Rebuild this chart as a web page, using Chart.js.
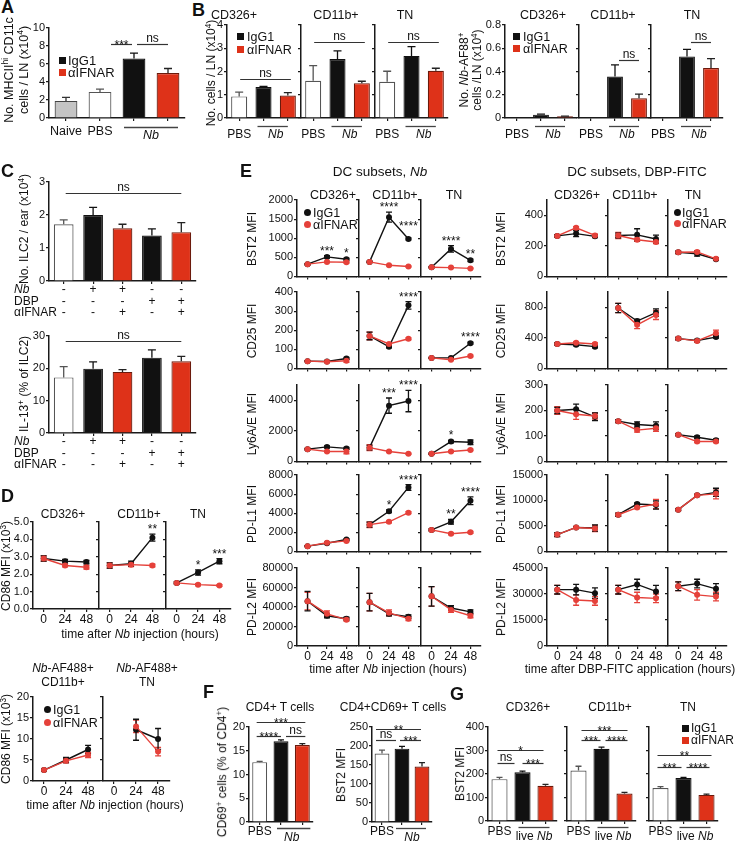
<!DOCTYPE html>
<html><head><meta charset="utf-8">
<script src="https://cdn.jsdelivr.net/npm/chart.js@4.4.1/dist/chart.umd.min.js"></script>
<style>
html,body{margin:0;padding:0;background:#fff;}
#fig{position:relative;width:737px;height:841px;overflow:hidden;background:#fff;font-family:"Liberation Sans",Arial,Helvetica,sans-serif;color:#111;}
#fig canvas{position:absolute;}
.t{position:absolute;white-space:nowrap;line-height:1.15;text-align:center;}
.t sup{font-size:0.68em;line-height:0;vertical-align:0.55em;}
.sq{position:absolute;width:7px;height:7px;}
.dot{position:absolute;width:7px;height:7px;border-radius:50%;}
</style></head><body><div id="fig"></div>
<script>
// ================= DATA =================
const times = [0, 24, 48];
const subsets = ['CD326+', 'CD11b+', 'TN'];
const treatments = ['PBS', 'IgG1', 'αIFNAR'];

// Panel A
const A_groups = ['Naive', 'PBS', 'IgG1', 'αIFNAR'];
const A_values = [1.9, 2.9, 6.6, 5.0];
const A_errors = [0.4, 0.3, 0.6, 0.5];
const A_ticks = [0, 2, 4, 6, 8, 10];

// Panel B
const B_cells = [[0.93, 1.33, 0.97], [1.6, 2.54, 1.5], [1.56, 2.67, 2.03]];
const B_cellsErr = [[0.18, 0.03, 0.12], [0.65, 0.35, 0.08], [0.45, 0.4, 0.11]];
const B_cellsTicks = [0, 1, 2, 3, 4];
const B_cellsNsY = [1.67, 3.26, 3.26];
const B_af = [[null, 0.029, 0.014], [null, 0.357, 0.17], [null, 0.53, 0.43]];
const B_afErr = [[0, 0.004, 0.002], [0, 0.1, 0.035], [0, 0.06, 0.08]];
const B_afTicks = [0, 0.2, 0.4, 0.6, 0.8];
const B_afNsY = [null, 0.5, 0.657];

// Panel C
const C_groups = ['ctrl', 'Nb', 'Nb+aIFNAR', 'DBP', 'DBP+aIFNAR'];
const C_ilc2 = [1.72, 2.0, 1.6, 1.38, 1.48];
const C_ilc2Err = [0.13, 0.23, 0.12, 0.2, 0.29];
const C_ilc2Ticks = [0, 1, 2, 3];
const C_il13 = [17.2, 19.9, 18.9, 23.3, 22.2];
const C_il13Err = [3.3, 2.1, 0.7, 2.4, 1.5];
const C_il13Ticks = [0, 10, 20, 30];
const C_nsY = [2.66, 28.3];
const C_rowNb = ['-', '+', '+', '-', '-'];
const C_rowDBP = ['-', '-', '-', '+', '+'];
const C_rowIFNAR = ['-', '-', '+', '-', '+'];

// Panel D (CD86 MFI x10^3)
const D_IgG1 = [[2.9, 2.75, 2.7], [2.5, 2.6, 4.1], [1.5, 2.1, 2.75]];
const D_IgG1Err = [[0.15, 0.1, 0.1], [0.15, 0.15, 0.2], [0.06, 0.15, 0.15]];
const D_aIFNAR = [[2.9, 2.5, 2.4], [2.5, 2.55, 2.5], [1.5, 1.4, 1.35]];
const D_aIFNARErr = [[0.15, 0.08, 0.1], [0.15, 0.12, 0.08], [0.06, 0.06, 0.05]];
const D_ticks = [0, 1, 2, 3, 4, 5];
const D_stars = [[], [[2, '**']], [[1, '*'], [2, '***']]];
const D2_subsets = ['CD11b+', 'TN'];
const D2_IgG1 = [[2.6, 5.0, 7.5], [null, 12.2, 10]];
const D2_IgG1Err = [[0.2, 0.6, 1.0], [0, 2.5, 2.5]];
const D2_aIFNAR = [[2.6, 4.8, 6.2], [null, 13, 7]];
const D2_aIFNARErr = [[0.2, 0.5, 0.6], [0, 1.5, 1]];
const D2_ticks = [0, 5, 10, 15, 20];

// Panel E, Nb   (per subset: CD326+, CD11b+, TN ; values at 0, 24, 48 h)
const nbBST2_IgG1 = [[320, 510, 450], [380, 1550, 980], [240, 720, 420]];
const nbBST2_IgG1Err = [[15, 30, 25], [20, 130, 25], [15, 85, 30]];
const nbBST2_aIFNAR = [[320, 380, 370], [380, 290, 260], [240, 230, 210]];
const nbBST2_aIFNARErr = [[15, 20, 20], [15, 15, 15], [10, 15, 10]];
const nbCD25_IgG1 = [[38, 36, 52], [170, 113, 330], [55, 55, 132]];
const nbCD25_IgG1Err = [[3, 3, 5], [20, 5, 20], [3, 3, 5]];
const nbCD25_aIFNAR = [[38, 35, 40], [170, 128, 155], [55, 45, 65]];
const nbCD25_aIFNARErr = [[3, 3, 8], [20, 5, 5], [3, 3, 4]];
const nbLy6_IgG1 = [[800, 950, 850], [900, 3650, 3950], [500, 1300, 1250]];
const nbLy6_IgG1Err = [[50, 60, 60], [150, 500, 700], [40, 80, 150]];
const nbLy6_aIFNAR = [[800, 650, 650], [900, 650, 500], [500, 650, 750]];
const nbLy6_aIFNARErr = [[50, 40, 150], [200, 40, 40], [40, 40, 50]];
const nbPDL1_IgG1 = [[550, 850, 1250], [2800, 4200, 6700], [2250, 3100, 5300]];
const nbPDL1_IgG1Err = [[50, 60, 80], [250, 150, 300], [100, 250, 400]];
const nbPDL1_aIFNAR = [[550, 900, 1100], [2800, 3100, 4050], [2250, 1850, 2000]];
const nbPDL1_aIFNARErr = [[50, 60, 80], [300, 100, 100], [100, 80, 100]];
const nbPDL2_IgG1 = [[46000, 31000, 28000], [45000, 33000, 30000], [51000, 39000, 35000]];
const nbPDL2_IgG1Err = [[10000, 2000, 1500], [9000, 2000, 2000], [10000, 2500, 2000]];
const nbPDL2_aIFNAR = [[46000, 33000, 27000], [45000, 34000, 28000], [51000, 37000, 31000]];
const nbPDL2_aIFNARErr = [[9000, 3000, 1500], [9000, 3000, 2000], [10000, 2500, 2000]];
const E_nbTicks = [[0, 500, 1000, 1500, 2000], [0, 100, 200, 300, 400], [0, 1000, 2000, 3000, 4000, 5000], [0, 2000, 4000, 6000, 8000], [0, 20000, 40000, 60000, 80000]];
const E_nbStars = [
  [[[1, '***'], [2, '*']], [[1, '****'], [2, '****', 7]], [[1, '****'], [2, '**']]],
  [[], [[2, '****']], [[2, '****']]],
  [[], [[1, '***'], [2, '****']], [[1, '*']]],
  [[], [[1, '*'], [2, '****']], [[1, '**'], [2, '****']]],
  [[], [], []]
];

// Panel E, DBP-FITC
const dbpBST2_IgG1 = [[265, 280, 262], [268, 272, 245], [158, 148, 112]];
const dbpBST2_IgG1Err = [[8, 20, 8], [15, 40, 25], [8, 15, 6]];
const dbpBST2_aIFNAR = [[265, 318, 268], [268, 240, 225], [158, 160, 115]];
const dbpBST2_aIFNARErr = [[8, 8, 8], [20, 10, 10], [8, 8, 6]];
const dbpCD25_IgG1 = [[320, 310, 285], [790, 620, 730], [390, 365, 410]];
const dbpCD25_IgG1Err = [[15, 15, 15], [60, 20, 50], [15, 15, 15]];
const dbpCD25_aIFNAR = [[320, 335, 320], [790, 570, 700], [390, 360, 460]];
const dbpCD25_aIFNARErr = [[15, 15, 15], [60, 50, 60], [15, 15, 40]];
const dbpLy6_IgG1 = [[200, 205, 175], [158, 145, 140], [105, 95, 83]];
const dbpLy6_IgG1Err = [[12, 20, 15], [6, 10, 15], [4, 5, 5]];
const dbpLy6_aIFNAR = [[200, 185, 178], [158, 123, 130], [105, 78, 78]];
const dbpLy6_aIFNARErr = [[15, 20, 12], [6, 8, 12], [4, 4, 4]];
const dbpPDL1_IgG1 = [[3300, 4700, 4600], [7200, 9300, 9100], [8200, 11000, 11600]];
const dbpPDL1_IgG1Err = [[400, 150, 600], [300, 200, 800], [200, 200, 800]];
const dbpPDL1_aIFNAR = [[3300, 4700, 4500], [7200, 8600, 9300], [8200, 11000, 11300]];
const dbpPDL1_aIFNARErr = [[400, 150, 600], [300, 200, 900], [200, 200, 1000]];
const dbpPDL2_IgG1 = [[32500, 32500, 30500], [32500, 35500, 31500], [34500, 36000, 33000]];
const dbpPDL2_IgG1Err = [[2500, 3000, 3000], [2500, 3000, 3500], [2500, 2500, 3000]];
const dbpPDL2_aIFNAR = [[32500, 26500, 26000], [32500, 28000, 27500], [34500, 29500, 28500]];
const dbpPDL2_aIFNARErr = [[2500, 3000, 2500], [2500, 3000, 2500], [2500, 3000, 2500]];
const E_dbpTicks = [[0, 100, 200, 300, 400, 500], [0, 200, 400, 600, 800, 1000], [0, 100, 200, 300], [0, 5000, 10000, 15000], [0, 15000, 30000, 45000]];
const E_markers = ['BST2 MFI', 'CD25 MFI', 'Ly6A/E MFI', 'PD-L1 MFI', 'PD-L2 MFI'];

// Panel F
const F_cd69 = [12.6, 17.0, 16.2];
const F_cd69Err = [0.15, 0.3, 0.3];
const F_cd69Ticks = [0, 5, 10, 15, 20];
const F_bst2 = [180, 193, 146];
const F_bst2Err = [9, 6, 10];
const F_bst2Ticks = [0, 50, 100, 150, 200, 250];

// Panel G
const G_bst2 = [[178, 207, 150], [215, 307, 117], [140, 183, 111]];
const G_bst2Err = [[8, 5, 6], [18, 7, 5], [6, 3, 3]];
const G_ticks = [0, 100, 200, 300, 400];

// ================= HELPERS =================
const FONT = '"Liberation Sans", Arial, Helvetica, sans-serif';
const fig = document.getElementById('fig');
const SPEC = new Map();
const BLACK = '#111111', RED = '#de3219', RED_EDGE = '#6b1a0c', RED_LINE = '#e5413a',
      WHITE = '#ffffff', GRAYFILL = '#c4c4c4', EDGE = '#555555', AXIS = '#1a1a1a';
const BAR3_FILL = [WHITE, BLACK, RED], BAR3_EDGE = [EDGE, BLACK, RED_EDGE], BAR3_ERR = [EDGE, BLACK, '#222'];

function GRID() { return { drawOnChartArea: false, drawTicks: true, tickLength: 3, color: AXIS, lineWidth: 1.2, offset: false }; }
function BORDER() { return { display: true, color: AXIS, width: 1.5 }; }

function txt(html, x, y, o = {}) {
  const d = document.createElement('div');
  d.className = 't';
  d.innerHTML = html;
  d.style.left = x + 'px'; d.style.top = y + 'px';
  d.style.fontSize = (o.size || 12) + 'px';
  if (o.bold) d.style.fontWeight = 'bold';
  if (o.lh) d.style.lineHeight = o.lh + 'px';
  const ax = o.ax ?? -50, ay = o.ay ?? -50;
  d.style.transform = `translate(${ax}%, ${ay}%)` + (o.rot ? ` rotate(${o.rot}deg)` : '');
  fig.appendChild(d);
}
function mark(cls, x, y, color) {
  const d = document.createElement('div');
  d.className = cls; d.style.left = x + 'px'; d.style.top = y + 'px'; d.style.background = color;
  fig.appendChild(d);
}

function drawParts(ctx, parts, cx, y, size) {
  let total = 0;
  const ws = parts.map(([t, it]) => { ctx.font = (it ? 'italic ' : '') + size + 'px ' + FONT; const w = ctx.measureText(t).width; total += w; return w; });
  let x = cx - total / 2;
  ctx.textAlign = 'left';
  parts.forEach(([t, it], k) => { ctx.font = (it ? 'italic ' : '') + size + 'px ' + FONT; ctx.fillText(t, x, y); x += ws[k]; });
  ctx.textAlign = 'center';
}

function drawErrors(chart, both) {
  const ctx = chart.ctx, ys = chart.scales.y;
  chart.data.datasets.forEach((ds, di) => {
    if (!ds.errors) return;
    const meta = chart.getDatasetMeta(di);
    meta.data.forEach((el, i) => {
      const raw = ds.data[i];
      const v = (raw !== null && typeof raw === 'object') ? raw.y : raw;
      const e = ds.errors[i];
      if (v == null || !e) return;
      const x = el.x;
      const yt = ys.getPixelForValue(v + e);
      const yb = both ? ys.getPixelForValue(v - e) : ys.getPixelForValue(v);
      const cw = ds.capW || 3;
      ctx.save();
      ctx.strokeStyle = ds.errColors ? ds.errColors[i] : (ds.errColor || BLACK);
      ctx.lineWidth = 1.3;
      ctx.beginPath();
      ctx.moveTo(x, yb); ctx.lineTo(x, yt);
      ctx.moveTo(x - cw, yt); ctx.lineTo(x + cw, yt);
      if (both) { ctx.moveTo(x - cw, yb); ctx.lineTo(x + cw, yb); }
      ctx.stroke();
      ctx.restore();
    });
  });
}

function drawAnn(chart) {
  const o = SPEC.get(chart.canvas); if (!o) return;
  const ctx = chart.ctx, xs = chart.scales.x, ys = chart.scales.y, ca = chart.chartArea;
  const X = v => xs.getPixelForValue(v);
  const fs = o.fs || 12;
  ctx.save();
  ctx.fillStyle = '#111'; ctx.textAlign = 'center'; ctx.textBaseline = 'middle';
  (o.cat || []).forEach(([i, t]) => { ctx.font = fs + 'px ' + FONT; ctx.fillText(t, X(i), ca.bottom + o.catDy); });
  (o.groups || []).forEach(g => {
    ctx.strokeStyle = '#444'; ctx.lineWidth = 1.3;
    ctx.beginPath();
    ctx.moveTo(X(g.from) - g.e1, ca.bottom + g.ly + 0.5); ctx.lineTo(X(g.to) + g.e2, ca.bottom + g.ly + 0.5);
    ctx.stroke();
    drawParts(ctx, g.parts, (X(g.from) + X(g.to)) / 2, ca.bottom + g.ty, fs);
  });
  (o.brackets || []).forEach(([from, to, yv, t, o1, o2]) => {
    const y = Math.round(ys.getPixelForValue(yv)) + 0.5;
    const x1 = X(from) + (o1 || 0), x2 = X(to) + (o2 || 0);
    ctx.strokeStyle = '#333'; ctx.lineWidth = 1.2;
    ctx.beginPath(); ctx.moveTo(x1, y); ctx.lineTo(x2, y); ctx.stroke();
    ctx.font = '12px ' + FONT; ctx.textBaseline = 'alphabetic';
    const star = t.indexOf('*') >= 0;
    ctx.fillText(t, (x1 + x2) / 2, star ? y + 4 : y - 2.5);
    ctx.textBaseline = 'middle';
  });
  (o.stars || []).forEach(([d, i, t, dy]) => {
    const ds = chart.data.datasets[d];
    const el = chart.getDatasetMeta(d).data[i];
    const v = ds.data[i].y, e = (ds.errors && ds.errors[i]) || 0;
    const yt = ys.getPixelForValue(v + e);
    ctx.font = '12px ' + FONT; ctx.textBaseline = 'alphabetic';
    ctx.fillText(t, el.x, yt - 1 - (dy || 0));
    ctx.textBaseline = 'middle';
  });
  (o.table || []).forEach((row, r) => row.forEach((t, i) => {
    ctx.font = '12px ' + FONT; ctx.fillText(t, X(i), ca.bottom + o.tableDy[r]);
  }));
  (o.xLabels || []).forEach(v => { ctx.font = '12px ' + FONT; ctx.fillText(String(v), X(v), ca.bottom + o.xDy); });
  ctx.restore();
}

Chart.register({
  id: 'extras',
  beforeDatasetsDraw(chart) { if (chart.config.type === 'line') drawErrors(chart, true); },
  afterDatasetsDraw(chart) { if (chart.config.type === 'bar') drawErrors(chart, false); drawAnn(chart); }
});

function plot(p) {
  const LW = p.LW, PT = p.PT ?? 10, PR = p.PR ?? 6, BH = p.BH ?? 8;
  const pw = p.x1 - p.x0, ph = p.y1 - p.y0;
  const w = LW + pw + PR, h = PT + ph + BH;
  const cv = document.createElement('canvas');
  cv.width = w; cv.height = h;
  cv.style.cssText = `left:${p.x0 - LW}px;top:${p.y0 - PT}px;width:${w}px;height:${h}px`;
  fig.appendChild(cv);
  SPEC.set(cv, p.ann || {});
  const yt = p.yTicks;
  return new Chart(cv, {
    type: p.type,
    data: p.data,
    options: {
      responsive: false, animation: false, devicePixelRatio: 1, events: [],
      layout: { padding: { top: PT, right: PR, bottom: 0, left: 0 } },
      plugins: { legend: { display: false }, tooltip: { enabled: false } },
      scales: {
        x: Object.assign({ afterFit: s => { s.height = BH; } }, p.xScale),
        y: {
          type: 'linear', min: 0, max: yt[yt.length - 1],
          afterFit: s => { s.width = LW; },
          afterBuildTicks: s => { s.ticks = yt.map(v => ({ value: v })); },
          ticks: { font: { size: 11, family: FONT }, color: '#111', padding: 1,
                   callback: v => p.yLab ? (p.yFmt ? p.yFmt(v) : String(v)) : '' },
          grid: GRID(), border: BORDER()
        }
      }
    }
  });
}

function catX() { return { type: 'category', offset: true, ticks: { callback: () => '', padding: 0 }, grid: GRID(), border: BORDER() }; }
function linX(min, max) {
  return { type: 'linear', min, max, afterBuildTicks: s => { s.ticks = times.map(v => ({ value: v })); },
           ticks: { callback: () => '', padding: 0 }, grid: GRID(), border: BORDER() };
}

function bars(p) {
  p.type = 'bar';
  p.xScale = catX();
  p.data = { labels: p.labels, datasets: [{
    data: p.values, errors: p.errors, errColors: p.errColors,
    backgroundColor: p.colors, borderColor: p.edges, borderWidth: 1.2,
    barPercentage: p.barPct ?? 0.68, categoryPercentage: 1, capW: p.capW ?? 4
  }] };
  return plot(p);
}

function lineSets(igg, iggErr, ifn, ifnErr) {
  const mk = (vals, errs, col) => ({
    data: times.map((t, k) => ({ x: t, y: vals[k] })), errors: errs, errColor: col, capW: 3,
    borderColor: col, backgroundColor: col, pointBackgroundColor: col, pointBorderColor: col,
    borderWidth: 1.4, pointRadius: 3, pointHoverRadius: 3, pointBorderWidth: 0, clip: false, tension: 0
  });
  return [mk(ifn, ifnErr, RED_LINE), mk(igg, iggErr, BLACK)];
}

// ================= PANEL A =================
txt('A', 1, -3, { size: 18, bold: true, ax: 0, ay: 0 });
bars({ x0: 49, x1: 185, y0: 28, y1: 118, LW: 30, PT: 10, PR: 4, BH: 26, yTicks: A_ticks, yLab: true,
  labels: A_groups, values: A_values, errors: A_errors,
  colors: [GRAYFILL, WHITE, BLACK, RED], edges: ['#444', EDGE, BLACK, RED_EDGE], errColors: ['#333', EDGE, BLACK, '#222'],
  barPct: 0.67,
  ann: { cat: [[0, 'Naive'], [1, 'PBS']], catDy: 14, fs: 12.5,
         groups: [{ from: 2, to: 3, e1: 10, e2: 10, ly: 9, ty: 18, parts: [['Nb', true]] }],
         brackets: [[1, 2, 8.25, '***', 11, -2], [2, 3, 8.25, 'ns', 3, 0]] } });
txt('No. MHCII<sup>hi</sup> CD11c<br>cells / LN (x10<sup>4</sup>)', 17, 70, { size: 12.5, rot: -90, lh: 15 });
mark('sq', 59, 57, BLACK); txt('IgG1', 68, 60.5, { size: 13, ax: 0 });
mark('sq', 59, 69, RED); txt('αIFNAR', 68, 72.5, { size: 13, ax: 0 });

// ================= PANEL B =================
txt('B', 192, 0, { size: 18, bold: true, ax: 0, ay: 0 });
const B_leftX0 = [227, 301, 375], B_rightX0 = [505, 579, 651];
subsets.forEach((s, k) => {
  bars({ x0: B_leftX0[k], x1: B_leftX0[k] + 73, y0: 25, y1: 118, LW: k === 0 ? 24 : 4, PT: 10, PR: 2, BH: 26,
    yTicks: B_cellsTicks, yLab: k === 0, labels: treatments, values: B_cells[k], errors: B_cellsErr[k],
    colors: BAR3_FILL, edges: BAR3_EDGE, errColors: BAR3_ERR, barPct: 0.66,
    ann: { cat: [[0, 'PBS']], catDy: 17, groups: [{ from: 1, to: 2, e1: 6, e2: 0, ly: 8, ty: 17, parts: [['Nb', true]] }],
           brackets: [[0, 2, B_cellsNsY[k], 'ns', 1, 3]] } });
  bars({ x0: B_rightX0[k], x1: B_rightX0[k] + 72, y0: 25, y1: 118, LW: k === 0 ? 24 : 4, PT: 10, PR: 2, BH: 26,
    yTicks: B_afTicks, yLab: k === 0, yFmt: v => v === 0 ? '0' : v.toFixed(1),
    labels: treatments, values: B_af[k], errors: B_afErr[k],
    colors: BAR3_FILL, edges: BAR3_EDGE, errColors: BAR3_ERR, barPct: 0.66,
    ann: { cat: [[0, 'PBS']], catDy: 17, groups: [{ from: 1, to: 2, e1: 6, e2: 0, ly: 8, ty: 17, parts: [['Nb', true]] }],
           brackets: B_afNsY[k] == null ? [] : [[1, 2, B_afNsY[k], 'ns', 4, 0]] } });
});
txt('No. cells / LN (x10<sup>4</sup>)', 212, 73, { size: 12, rot: -90 });
[[234, 0], [336, 1], [405, 2]].forEach(([x, k]) => txt(subsets[k], x, 15, { size: 12.5 }));
mark('sq', 237, 33, BLACK); txt('IgG1', 247, 36.5, { size: 12.5, ax: 0 });
mark('sq', 237, 46, RED); txt('αIFNAR', 247, 49.5, { size: 12.5, ax: 0 });
txt('No. <i>Nb</i>-AF88<sup>+</sup><br>cells /LN (x10<sup>4</sup>)', 471, 70, { size: 12, rot: -90, lh: 13 });
[[543, 0], [613, 1], [692, 2]].forEach(([x, k]) => txt(subsets[k], x, 15, { size: 12.5 }));
mark('sq', 513, 33, BLACK); txt('IgG1', 523, 36.5, { size: 12.5, ax: 0 });
mark('sq', 513, 45, RED); txt('αIFNAR', 523, 48.5, { size: 12.5, ax: 0 });

// ================= PANEL C =================
txt('C', 1, 161, { size: 18, bold: true, ax: 0, ay: 0 });
const C_fill = [WHITE, BLACK, RED, BLACK, RED], C_edge = [EDGE, BLACK, RED_EDGE, BLACK, RED_EDGE], C_err = [EDGE, BLACK, '#222', BLACK, '#222'];
bars({ x0: 49, x1: 196, y0: 182, y1: 281, LW: 22, PT: 10, PR: 4, BH: 38, yTicks: C_ilc2Ticks, yLab: true,
  labels: C_groups, values: C_ilc2, errors: C_ilc2Err, colors: C_fill, edges: C_edge, errColors: C_err, barPct: 0.67,
  ann: { table: [C_rowNb, C_rowDBP, C_rowIFNAR], tableDy: [9, 21, 32], brackets: [[0, 4, C_nsY[0], 'ns', 2, 0]] } });
bars({ x0: 49, x1: 196, y0: 336, y1: 433, LW: 22, PT: 14, PR: 4, BH: 38, yTicks: C_il13Ticks, yLab: true,
  labels: C_groups, values: C_il13, errors: C_il13Err, colors: C_fill, edges: C_edge, errColors: C_err, barPct: 0.67,
  ann: { table: [C_rowNb, C_rowDBP, C_rowIFNAR], tableDy: [9, 21, 32], brackets: [[0, 4, C_nsY[1], 'ns', 2, 0]] } });
txt('No. ILC2 / ear (x10<sup>4</sup>)', 25, 229, { size: 12, rot: -90 });
txt('IL-13<sup>+</sup> (% of ILC2)', 25, 384, { size: 12, rot: -90 });
[[290, 302, 313], [442, 454, 465]].forEach(ys => {
  txt('<i>Nb</i>', 14, ys[0], { size: 12, ax: 0 });
  txt('DBP', 14, ys[1], { size: 12, ax: 0 });
  txt('αIFNAR', 14, ys[2], { size: 12, ax: 0 });
});

// ================= PANEL D =================
txt('D', 1, 486, { size: 18, bold: true, ax: 0, ay: 0 });
const D_x0 = [33, 99, 166];
subsets.forEach((s, k) => {
  plot({ type: 'line', x0: D_x0[k], x1: D_x0[k] + 66, y0: 522, y1: 609, LW: k === 0 ? 24 : 4, PT: 12, PR: 2, BH: 18,
    yTicks: D_ticks, yLab: k === 0, yFmt: v => v.toFixed(1), xScale: linX(-12, 61),
    data: { datasets: lineSets(D_IgG1[k], D_IgG1Err[k], D_aIFNAR[k], D_aIFNARErr[k]) },
    ann: { stars: D_stars[k].map(([i, t, dy]) => [1, i, t, dy]), xLabels: times, xDy: 11 } });
  txt(s, [63, 139, 198][k], 515, { size: 12 });
});
txt('CD86 MFI (x10<sup>3</sup>)', 7, 566, { size: 12, rot: -90 });
txt('time after <i>Nb</i> injection (hours)', 140, 635, { size: 12 });

const D2_x0 = [33, 103];
D2_subsets.forEach((s, k) => {
  plot({ type: 'line', x0: D2_x0[k], x1: D2_x0[k] + 68, y0: 697, y1: 781, LW: k === 0 ? 22 : 4, PT: 10, PR: 2, BH: 18,
    yTicks: D2_ticks, yLab: k === 0, xScale: linX(-12, 61),
    data: { datasets: lineSets(D2_IgG1[k], D2_IgG1Err[k], D2_aIFNAR[k], D2_aIFNARErr[k]) },
    ann: { xLabels: times, xDy: 11 } });
  txt('<i>Nb</i>-AF488+<br>' + s, [63, 147][k], 675, { size: 12, lh: 14 });
});
mark('dot', 44, 706, BLACK); txt('IgG1', 53, 709.5, { size: 12.5, ax: 0 });
mark('dot', 44, 719, RED_LINE); txt('αIFNAR', 53, 722.5, { size: 12.5, ax: 0 });
txt('CD86 MFI (x10<sup>3</sup>)', 7, 739, { size: 12, rot: -90 });
txt('time after <i>Nb</i> injection (hours)', 105, 806, { size: 12 });

// ================= PANEL E =================
txt('E', 240, 161, { size: 18, bold: true, ax: 0, ay: 0 });
const E_nbRows = [
  [nbBST2_IgG1, nbBST2_IgG1Err, nbBST2_aIFNAR, nbBST2_aIFNARErr],
  [nbCD25_IgG1, nbCD25_IgG1Err, nbCD25_aIFNAR, nbCD25_aIFNARErr],
  [nbLy6_IgG1, nbLy6_IgG1Err, nbLy6_aIFNAR, nbLy6_aIFNARErr],
  [nbPDL1_IgG1, nbPDL1_IgG1Err, nbPDL1_aIFNAR, nbPDL1_aIFNARErr],
  [nbPDL2_IgG1, nbPDL2_IgG1Err, nbPDL2_aIFNAR, nbPDL2_aIFNARErr]
];
const E_dbpRows = [
  [dbpBST2_IgG1, dbpBST2_IgG1Err, dbpBST2_aIFNAR, dbpBST2_aIFNARErr],
  [dbpCD25_IgG1, dbpCD25_IgG1Err, dbpCD25_aIFNAR, dbpCD25_aIFNARErr],
  [dbpLy6_IgG1, dbpLy6_IgG1Err, dbpLy6_aIFNAR, dbpLy6_aIFNARErr],
  [dbpPDL1_IgG1, dbpPDL1_IgG1Err, dbpPDL1_aIFNAR, dbpPDL1_aIFNARErr],
  [dbpPDL2_IgG1, dbpPDL2_IgG1Err, dbpPDL2_aIFNAR, dbpPDL2_aIFNARErr]
];
const E_rowY0 = [200, 292, 385, 475, 568], E_rowH = 78;
const E_leftX0 = [297, 359, 421], E_rightX0 = [547, 608, 668];
E_nbRows.forEach((row, r) => {
  subsets.forEach((s, c) => {
    const last = r === 4;
    plot({ type: 'line', x0: E_leftX0[c], x1: E_leftX0[c] + 61, y0: E_rowY0[r], y1: E_rowY0[r] + E_rowH,
      LW: c === 0 ? 40 : 4, PT: 12, PR: 2, BH: last ? 18 : 6, yTicks: E_nbTicks[r], yLab: c === 0,
      xScale: linX(-13, 61), data: { datasets: lineSets(row[0][c], row[1][c], row[2][c], row[3][c]) },
      ann: { stars: E_nbStars[r][c].map(([i, t, dy]) => [1, i, t, dy]), xLabels: last ? times : null, xDy: 11 } });
  });
  txt(E_markers[r], 253, E_rowY0[r] + 39, { size: 12, rot: -90 });
});
E_dbpRows.forEach((row, r) => {
  subsets.forEach((s, c) => {
    const last = r === 4;
    plot({ type: 'line', x0: E_rightX0[c], x1: E_rightX0[c] + 60, y0: E_rowY0[r], y1: E_rowY0[r] + E_rowH,
      LW: c === 0 ? 40 : 4, PT: 12, PR: 2, BH: last ? 18 : 6, yTicks: E_dbpTicks[r], yLab: c === 0,
      xScale: linX(-13, 62), data: { datasets: lineSets(row[0][c], row[1][c], row[2][c], row[3][c]) },
      ann: { xLabels: last ? times : null, xDy: 11 } });
  });
  txt(E_markers[r], 502, E_rowY0[r] + 39, { size: 12, rot: -90 });
});
txt('DC subsets, <i>Nb</i>', 380, 172, { size: 13.5 });
txt('DC subsets, DBP-FITC', 637, 172, { size: 13.5 });
[333, 395, 454].forEach((x, k) => txt(subsets[k], x, 195, { size: 12.5 }));
[577, 635, 693].forEach((x, k) => txt(subsets[k], x, 195, { size: 12.5 }));
mark('dot', 304, 209, BLACK); txt('IgG1', 313, 212.5, { size: 12.5, ax: 0 });
mark('dot', 304, 221, RED_LINE); txt('αIFNAR', 313, 224.5, { size: 12.5, ax: 0 });
mark('dot', 674, 209, BLACK); txt('IgG1', 682, 212.5, { size: 12.5, ax: 0 });
mark('dot', 674, 220, RED_LINE); txt('αIFNAR', 682, 223.5, { size: 12.5, ax: 0 });
txt('time after <i>Nb</i> injection (hours)', 388, 670, { size: 12 });
txt('time after DBP-FITC application (hours)', 630, 670, { size: 12 });

// ================= PANEL F =================
txt('F', 203, 682, { size: 18, bold: true, ax: 0, ay: 0 });
bars({ x0: 249, x1: 313, y0: 727, y1: 822, LW: 22, PT: 16, PR: 4, BH: 20, yTicks: F_cd69Ticks, yLab: true,
  labels: treatments, values: F_cd69, errors: F_cd69Err, colors: BAR3_FILL, edges: BAR3_EDGE, errColors: BAR3_ERR, barPct: 0.7, capW: 3,
  ann: { cat: [[0, 'PBS']], catDy: 10, fs: 12, groups: [{ from: 1, to: 2, e1: 4, e2: 8, ly: 6, ty: 16, parts: [['Nb', true]] }],
         brackets: [[0, 2, 21.1, '***', -3, 3], [0, 1, 18.2, '****', -3, 0], [1, 2, 18.2, 'ns', 5, 3]] } });
bars({ x0: 372, x1: 432, y0: 727, y1: 822, LW: 26, PT: 16, PR: 4, BH: 20, yTicks: F_bst2Ticks, yLab: true,
  labels: treatments, values: F_bst2, errors: F_bst2Err, colors: BAR3_FILL, edges: BAR3_EDGE, errColors: BAR3_ERR, barPct: 0.74, capW: 3,
  ann: { cat: [[0, 'PBS']], catDy: 10, fs: 12, groups: [{ from: 1, to: 2, e1: 6, e2: 4, ly: 6, ty: 16, parts: [['Nb', true]] }],
         brackets: [[0, 2, 245, '**', -6, -1], [0, 1, 216, 'ns', -6, -6], [1, 2, 216, '***', -2, -1]] } });
txt('CD4+ T cells', 280, 708, { size: 12 });
txt('CD4+CD69+ T cells', 393, 708, { size: 12 });
txt('CD69<sup>+</sup> cells (% of CD4<sup>+</sup>)', 223, 772, { size: 12, rot: -90 });
txt('BST2 MFI', 342, 775, { size: 12, rot: -90 });

// ================= PANEL G =================
txt('G', 450, 684, { size: 18, bold: true, ax: 0, ay: 0 });
const G_x0 = [488, 567, 649];
const G_brackets = [
  [[0, 2, 302, '*', -2, -2], [0, 1, 247, 'ns', -2, -8], [1, 2, 247, '***', 0, -2]],
  [[0, 2, 387, '***', 3, 3], [0, 1, 345, '***', 3, -1], [1, 2, 345, '****', 4, 3]],
  [[0, 2, 281, '**', -3, 5], [0, 1, 230, '***', -3, -2], [1, 2, 230, '****', 3, 3]]
];
subsets.forEach((s, k) => {
  bars({ x0: G_x0[k], x1: G_x0[k] + 69, y0: 727, y1: 821, LW: k === 0 ? 26 : 4, PT: 10, PR: 2, BH: 20,
    yTicks: G_ticks, yLab: k === 0, labels: treatments, values: G_bst2[k], errors: G_bst2Err[k],
    colors: BAR3_FILL, edges: BAR3_EDGE, errColors: BAR3_ERR, barPct: 0.7, capW: 3,
    ann: { cat: [[0, 'PBS']], catDy: 11, fs: 12, groups: [{ from: 1, to: 2, e1: 4, e2: 4, ly: 6, ty: 16, parts: [['live ', false], ['Nb', true]] }],
           brackets: G_brackets[k] } });
  txt(s, [528, 610, 688][k], 708, { size: 12 });
});
txt('BST2 MFI', 461, 774, { size: 12, rot: -90 });
mark('sq', 682, 725, BLACK); txt('IgG1', 691, 728.5, { size: 12, ax: 0 });
mark('sq', 682, 737, RED); txt('αIFNAR', 691, 740.5, { size: 12, ax: 0 });
</script></body></html>
